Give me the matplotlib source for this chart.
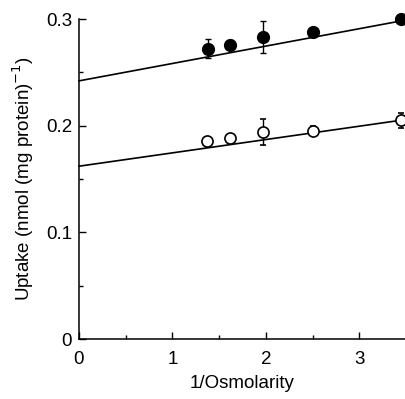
import matplotlib
matplotlib.use("Agg")
import matplotlib.pyplot as plt
import numpy as np

plt.rcParams['font.family'] = ['Liberation Sans', 'DejaVu Sans']

x_filled = [1.38, 1.62, 1.97, 2.50, 3.45]
y_filled = [0.272, 0.276, 0.283, 0.288, 0.300]
e_filled = [0.009, 0.004, 0.015, 0.0, 0.0]

x_open = [1.37, 1.62, 1.97, 2.50, 3.45]
y_open = [0.186, 0.188, 0.194, 0.195, 0.205]
e_open = [0.0, 0.0, 0.012, 0.005, 0.007]

fit_filled = (0.0163, 0.242)   # slope, intercept
fit_open = (0.0125, 0.162)

xticks = [0, 1, 2, 3]
yticks = [0, 0.1, 0.2, 0.3]
ytick_labels = ['0', '0.1', '0.2', '0.3']

fig = plt.figure(figsize=(4.06, 3.99), dpi=100)
ax = fig.add_axes([79/406, 60/399, 327/406, 320/399])

xl = np.array([0, 3.5])
for (m, b) in (fit_filled, fit_open):
    ax.plot(xl, m * xl + b, color='black', lw=1.2, clip_on=False, zorder=2)

ax.errorbar(x_filled, y_filled, yerr=e_filled, fmt='o', ms=8.5, mfc='black', mec='black',
            ecolor='black', elinewidth=1.0, capsize=2.5, capthick=1.0, clip_on=False, zorder=3)
ax.errorbar(x_open, y_open, yerr=e_open, fmt='o', ms=8, mfc='white', mec='black', mew=1.2,
            ecolor='black', elinewidth=1.0, capsize=2.5, capthick=1.0, clip_on=False, zorder=3)

ax.set_xlim(0, 3.5)
ax.set_ylim(0, 0.3)
ax.set_xticks(xticks)
ax.set_xticks([0.5, 1.5, 2.5], minor=True)
ax.set_yticks(yticks)
ax.set_yticklabels(ytick_labels)
ax.set_yticks([0.05, 0.15, 0.25], minor=True)
ax.tick_params(direction='in', length=5, width=1, labelsize=13.5)
ax.tick_params(axis='x', pad=9)
ax.tick_params(axis='y', pad=5)
ax.tick_params(which='minor', direction='in', length=3, width=1)
for s in ('top', 'right'):
    ax.spines[s].set_visible(False)
for s in ('left', 'bottom'):
    ax.spines[s].set_linewidth(1.1)
ax.set_xlabel('1/Osmolarity', fontsize=13.5, labelpad=5)
ax.set_ylabel('Uptake (nmol (mg protein)$^{-1}$)', fontsize=13.5, labelpad=7)

fig.savefig('out.png', dpi=100)
